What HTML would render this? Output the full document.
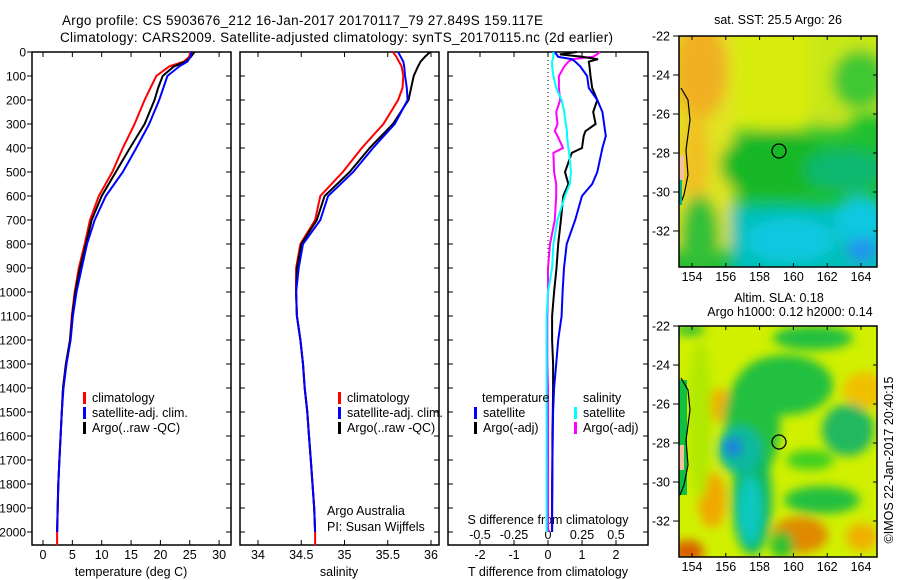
<!DOCTYPE html>
<html><head><meta charset="utf-8"><style>
html,body{margin:0;padding:0;background:#fff;}
svg{display:block;font-family:"Liberation Sans",Arial,sans-serif;}
text{fill:#000;}
</style></head><body>
<svg id="fig" width="900" height="580" viewBox="0 0 900 580" xmlns="http://www.w3.org/2000/svg">
<defs>
<filter id="blur1" x="-20%" y="-20%" width="140%" height="140%"><feGaussianBlur stdDeviation="7"/></filter>
<filter id="blur2" x="-20%" y="-20%" width="140%" height="140%"><feGaussianBlur stdDeviation="5"/></filter>
<clipPath id="clipTop"><rect x="679" y="36" width="198" height="231"/></clipPath>
<clipPath id="clipBot"><rect x="679" y="326" width="198" height="231"/></clipPath>
</defs>
<text x="62" y="25" font-size="13.5" textLength="481">Argo profile: CS 5903676_212 16-Jan-2017 20170117_79 27.849S 159.117E</text>
<text x="60" y="42" font-size="13.5" textLength="553">Climatology: CARS2009. Satellite-adjusted climatology: synTS_20170115.nc (2d earlier)</text>
<g id="panels"></g>
<g id="maps"></g>
</svg>
<script>
// ---- data ----
const depths = [0,20,40,60,100,150,200,300,400,500,600,700,800,900,1000,1100,1200,1300,1400,1500,1600,1700,1800,1900,2000];
const tempClim = [25.1,24.9,24.0,21.5,19.3,18.3,17.3,15.6,13.6,11.8,9.5,8.0,7.1,6.1,5.4,4.9,4.6,3.9,3.4,3.2,3.0,2.8,2.6,2.5,2.4];
const tempSat  = [25.3,25.1,24.6,23.2,21.2,20.5,19.8,18.1,15.9,13.6,10.7,8.8,7.5,6.6,5.7,5.1,4.7,4.0,3.5,3.2,3.0,2.8,2.6,2.5,2.4];
const tempArgo = [25.8,25.2,24.3,22.3,20.4,19.6,19.0,17.3,14.8,12.4,10.0,8.3,7.3,6.3,5.5,5.0,4.6,3.9,3.4,3.2,3.0,2.8,2.6,2.5,2.4];
const salClim = [35.56,35.6,35.63,35.66,35.68,35.67,35.62,35.45,35.2,34.98,34.72,34.66,34.49,34.44,34.44,34.45,34.49,34.52,34.54,34.57,34.59,34.61,34.63,34.65,34.66];
const salSat  = [35.62,35.65,35.68,35.69,35.70,35.72,35.73,35.58,35.33,35.1,34.81,34.72,34.52,34.47,34.44,34.45,34.49,34.52,34.54,34.57,34.59,34.61,34.63,34.65,34.66];
const salArgo = [35.99,35.93,35.88,35.85,35.8,35.77,35.74,35.56,35.29,35.06,34.77,34.68,34.5,34.45,34.44,34.45,34.49,34.52,34.54,34.57,34.59,34.61,34.63,34.65,34.66];
const depthsDiff = [0,10,20,30,40,60,100,150,200,250,300,330,350,400,420,500,550,600,700,800,900,1000,1100,1200,1300,1400,1500,1600,1700,1800,1900,2000];
const tDiffSat  = [0.2,0.25,0.3,0.7,0.8,0.95,1.15,1.2,1.45,1.6,1.65,1.68,1.7,1.6,1.57,1.45,1.3,1.0,0.8,0.55,0.47,0.43,0.4,0.3,0.24,0.18,0.15,0.14,0.13,0.13,0.12,0.12];
const tDiffArgo = [0.85,0.35,1.0,1.47,1.2,1.22,1.25,1.3,1.45,1.33,1.4,1.1,1.05,1.0,0.7,0.5,0.6,0.45,0.38,0.3,0.25,0.18,0.12,0.12,0.15,0.15,0.14,0.13,0.13,0.12,0.12,0.12];
const sDiffSat  = [0.04,0.04,0.04,0.035,0.03,0.03,0.04,0.06,0.1,0.12,0.13,0.14,0.14,0.15,0.155,0.17,0.16,0.125,0.07,0.04,0.03,0.0,-0.01,-0.01,-0.01,-0.01,-0.01,-0.01,-0.01,-0.01,-0.01,-0.01];
const sDiffArgo = [0.38,0.36,0.33,0.18,0.15,0.12,0.08,0.08,0.09,0.06,0.07,0.05,0.07,0.11,0.04,0.045,0.06,0.06,0.05,0.015,0.0,0.0,-0.005,-0.005,-0.005,0,0,0,0,0,0,0];
const depthTicks = [0,100,200,300,400,500,600,700,800,900,1000,1100,1200,1300,1400,1500,1600,1700,1800,1900,2000];
const tempTicks = [0,5,10,15,20,25,30];
const salTicks = [34,34.5,35,35.5,36];
const tDiffTicks = [-2,-1,0,1,2];
const sDiffTicks = [-0.5,-0.25,0,0.25,0.5];

const NS = "http://www.w3.org/2000/svg";
const P = document.getElementById('panels');
function mk(tag, attrs, parent, txt){ const e=document.createElementNS(NS,tag); for(const k in attrs) e.setAttribute(k,attrs[k]); if(txt!==undefined) e.textContent=txt; (parent||P).appendChild(e); return e; }

const TOP=52, BOT=545;
function yD(d){ return TOP + d*0.24; }
function xT(t){ return 43 + t*5.87; }
function xS(s){ return 258 + (s-34)*86.5; }
function xTD(d){ return 548 + d*34; }
function xSD(d){ return 548 + d*136; }

function line(xs, ds, fx, color, name, extraDepth){
  let pts = ds.map((d,i)=>fx(xs[i]).toFixed(1)+','+yD(d).toFixed(1));
  if(extraDepth) pts.push(fx(xs[xs.length-1]).toFixed(1)+','+yD(extraDepth).toFixed(1));
  const el = mk('polyline',{points:pts.join(' '),fill:'none',stroke:color,'stroke-width':2,'stroke-linejoin':'miter'});
  
  
}

function frame(x0,x1,name){
  const r = mk('rect',{x:x0,y:TOP,width:x1-x0,height:BOT-TOP,fill:'none',stroke:'#000','stroke-width':1.5});
  
  
}

frame(32,231,'temperature-panel-frame');
frame(240,439,'salinity-panel-frame');
frame(448,648,'difference-panel-frame');

depthTicks.forEach(d=>{
  const y=yD(d);
  mk('line',{x1:27,x2:32,y1:y,y2:y,stroke:'#000'});
  mk('line',{x1:226,x2:231,y1:y,y2:y,stroke:'#000'});
  mk('line',{x1:240,x2:245,y1:y,y2:y,stroke:'#000'});
  mk('line',{x1:434,x2:439,y1:y,y2:y,stroke:'#000'});
  mk('line',{x1:448,x2:453,y1:y,y2:y,stroke:'#000'});
  mk('line',{x1:643,x2:648,y1:y,y2:y,stroke:'#000'});
  const t = mk('text',{x:26,y:y+4.5,'font-size':12,'text-anchor':'end'},P,String(d));
  
  
});

tempTicks.forEach(v=>{ const x=xT(v);
  mk('line',{x1:x,x2:x,y1:BOT,y2:BOT-5,stroke:'#000'}); mk('line',{x1:x,x2:x,y1:TOP,y2:TOP+5,stroke:'#000'});
  const t=mk('text',{x:x,y:559,'font-size':12.5,'text-anchor':'middle'},P,String(v));
  
  
});
salTicks.forEach(v=>{ const x=xS(v);
  mk('line',{x1:x,x2:x,y1:BOT,y2:BOT-5,stroke:'#000'}); mk('line',{x1:x,x2:x,y1:TOP,y2:TOP+5,stroke:'#000'});
  const t=mk('text',{x:x,y:559,'font-size':12.5,'text-anchor':'middle'},P,String(v));
  
  
});
tDiffTicks.forEach(v=>{ const x=xTD(v);
  mk('line',{x1:x,x2:x,y1:BOT,y2:BOT-5,stroke:'#000'}); mk('line',{x1:x,x2:x,y1:TOP,y2:TOP+5,stroke:'#000'});
  const t=mk('text',{x:x,y:559,'font-size':12.5,'text-anchor':'middle'},P,String(v));
  
  
});
sDiffTicks.forEach(v=>{ const x=xSD(v);
  const t=mk('text',{x:x,y:539,'font-size':12.5,'text-anchor':'middle'},P,String(v));
  
  
});

[[131,'temperature (deg C)','temperature-axis-title'],[339,'salinity','salinity-axis-title'],[548,'T difference from climatology','t-difference-axis-title']].forEach(a=>{
  const t=mk('text',{x:a[0],y:576,'font-size':12.5,'text-anchor':'middle'},P,a[1]);
  
  
});
const sdt = mk('text',{x:548,y:524,'font-size':12.5,'text-anchor':'middle'},P,'S difference from climatology');



const zl = mk('line',{x1:548,x2:548,y1:TOP,y2:yD(1000),stroke:'#000','stroke-dasharray':'1,3','stroke-width':1});



line(tempClim, depths, xT, '#ff0000', 'temperature-climatology-line', 2055);
line(tempArgo, depths, xT, '#000000', 'temperature-argo-line');
line(tempSat, depths, xT, '#0000ff', 'temperature-satellite-line');
line(salClim, depths, xS, '#ff0000', 'salinity-climatology-line', 2055);
line(salArgo, depths, xS, '#000000', 'salinity-argo-line');
line(salSat, depths, xS, '#0000ff', 'salinity-satellite-line');
line(sDiffArgo, depthsDiff, xSD, '#ff00ff', 's-diff-argo-line');
line(tDiffArgo, depthsDiff, xTD, '#000000', 't-diff-argo-line');
line(tDiffSat, depthsDiff, xTD, '#0000ff', 't-diff-satellite-line');
line(sDiffSat, depthsDiff, xSD, '#00ffff', 's-diff-satellite-line');

function leg(x,y,color,label,name){
  mk('rect',{x:x,y:y-10,width:3,height:12,fill:color});
  const t=mk('text',{x:x+9,y:y,'font-size':12.5},P,label);
  
  
}
leg(83,402,'#ff0000','climatology','legend-climatology');
leg(83,417,'#0000ff','satellite-adj. clim.','legend-satellite');
leg(83,432,'#000000','Argo(..raw -QC)','legend-argo');
leg(338,402,'#ff0000','climatology','legend-climatology-2');
leg(338,417,'#0000ff','satellite-adj. clim.','legend-satellite-2');
leg(338,432,'#000000','Argo(..raw -QC)','legend-argo-2');
const lt=mk('text',{x:482,y:402,'font-size':12.5},P,'temperature');


const ls=mk('text',{x:583,y:402,'font-size':12.5},P,'salinity');


leg(474,417,'#0000ff','satellite','legend-t-satellite');
leg(474,432,'#000000','Argo(-adj)','legend-t-argo');
leg(574,417,'#00ffff','satellite','legend-s-satellite');
leg(574,432,'#ff00ff','Argo(-adj)','legend-s-argo');

const aa=mk('text',{x:327,y:515,'font-size':12.5},P,'Argo Australia');


const pi=mk('text',{x:327,y:531,'font-size':12.5},P,'PI: Susan Wijffels');



// ---- maps ----
const M = document.getElementById('maps');
function mm(tag, attrs, parent, txt){ return mk(tag, attrs, parent||M, txt); }
const lonTicks=[154,156,158,160,162,164];
const latTicks=[-22,-24,-26,-28,-30,-32];
function xLon(l){ return 692 + (l-154)*16.9; }

function mapAxes(y0, labelY, name){
  const f = mm('rect',{x:679,y:y0,width:198,height:231,fill:'none',stroke:'#000','stroke-width':1.5});
  
  
  lonTicks.forEach(l=>{ const x=xLon(l);
    mm('line',{x1:x,x2:x,y1:y0,y2:y0+4,stroke:'#000'}); mm('line',{x1:x,x2:x,y1:y0+231,y2:y0+227,stroke:'#000'});
    const t=mm('text',{x:x,y:labelY,'font-size':12.5,'text-anchor':'middle'},M,String(l));
    
    
  });
  latTicks.forEach(l=>{ const y=y0+(-22-l)*19.5;
    mm('line',{x1:673,x2:679,y1:y,y2:y,stroke:'#000'}); mm('line',{x1:873,x2:877,y1:y,y2:y,stroke:'#000'});
    const t=mm('text',{x:670,y:y+4.5,'font-size':12.5,'text-anchor':'end'},M,String(l));
    
    
  });
}

// SST map
const gTop = mm('g',{'clip-path':'url(#clipTop)'});


mm('rect',{x:679,y:36,width:198,height:231,fill:'#20c030'},gTop);
const gTB = mm('g',{filter:'url(#blur1)'},gTop);
[
 ['rect',{x:660,y:20,width:240,height:95,fill:'#c8e818'}],
 ['rect',{x:660,y:20,width:150,height:110,fill:'#d8ec10'}],
 ['rect',{x:660,y:20,width:75,height:230,fill:'#e0e420'}],
 ['ellipse',{cx:700,cy:70,rx:28,ry:50,fill:'#f0b020'}],
 ['ellipse',{cx:695,cy:160,rx:14,ry:50,fill:'#f0c020'}],
 ['ellipse',{cx:860,cy:80,rx:28,ry:30,fill:'#40c830'}],
 ['ellipse',{cx:830,cy:120,rx:25,ry:10,fill:'#c0e020'}],
 ['ellipse',{cx:775,cy:165,rx:55,ry:35,fill:'#18b828'}],
 ['ellipse',{cx:845,cy:170,rx:40,ry:22,fill:'#10b870'}],
 ['rect',{x:730,y:205,width:170,height:80,fill:'#00c0b8'}],
 ['ellipse',{cx:790,cy:240,rx:45,ry:22,fill:'#10c8e0'}],
 ['ellipse',{cx:860,cy:220,rx:25,ry:25,fill:'#10c8e0'}],
 ['ellipse',{cx:862,cy:250,rx:15,ry:12,fill:'#2090f0'}],
 ['ellipse',{cx:700,cy:235,rx:20,ry:40,fill:'#30c038'}]
].forEach(s=>mm(s[0],s[1],gTB));
mm('path',{d:'M681,88 L688,100 L690,120 L686,150 L688,175 L684,195 L680,205',fill:'none',stroke:'#000','stroke-width':1.2},gTop);
mm('rect',{x:679,y:155,width:5,height:25,fill:'#f5c0a0'},gTop);
mm('rect',{x:679,y:180,width:3,height:25,fill:'#10b080'},gTop);
const c1=mm('circle',{cx:779,cy:151,r:7,fill:'none',stroke:'#000','stroke-width':1.3},gTop);


mapAxes(36, 281, 'sst-map');
const st=mm('text',{x:778,y:24,'font-size':12.5,'text-anchor':'middle'},M,'sat. SST: 25.5 Argo: 26');



// SLA map
const gBot = mm('g',{'clip-path':'url(#clipBot)'});


mm('rect',{x:679,y:326,width:198,height:231,fill:'#d0f000'},gBot);
const gBB = mm('g',{filter:'url(#blur2)'},gBot);
[
 ['ellipse',{cx:720,cy:405,rx:14,ry:16,fill:'#f0b000'}],
 ['ellipse',{cx:712,cy:500,rx:14,ry:28,fill:'#f0a800'}],
 ['ellipse',{cx:688,cy:552,rx:16,ry:12,fill:'#d86000'}],
 ['ellipse',{cx:800,cy:535,rx:28,ry:18,fill:'#e08800'}],
 ['ellipse',{cx:865,cy:390,rx:22,ry:18,fill:'#f0c000'}],
 ['ellipse',{cx:862,cy:537,rx:16,ry:14,fill:'#f0b000'}],
 ['ellipse',{cx:813,cy:338,rx:40,ry:12,fill:'#20c040'}],
 ['ellipse',{cx:785,cy:385,rx:48,ry:30,fill:'#20c040'}],
 ['ellipse',{cx:752,cy:425,rx:28,ry:55,fill:'#20c040'}],
 ['ellipse',{cx:752,cy:500,rx:20,ry:55,fill:'#10b860'}],
 ['ellipse',{cx:740,cy:450,rx:22,ry:24,fill:'#10b8a0'}],
 ['ellipse',{cx:750,cy:510,rx:12,ry:35,fill:'#10c8c0'}],
 ['ellipse',{cx:848,cy:430,rx:26,ry:26,fill:'#20b860'}],
 ['ellipse',{cx:822,cy:500,rx:38,ry:14,fill:'#20c040'}],
 ['ellipse',{cx:810,cy:460,rx:24,ry:10,fill:'#40d020'}],
 ['ellipse',{cx:782,cy:545,rx:12,ry:14,fill:'#30c030'}],
 ['ellipse',{cx:690,cy:330,rx:15,ry:6,fill:'#30c030'}],
 ['ellipse',{cx:700,cy:420,rx:12,ry:80,fill:'#b0e800'}]
].forEach(s=>mm(s[0],s[1],gBB));
mm('ellipse',{cx:733,cy:447,rx:9,ry:9,fill:'#2080e0',filter:'url(#blur2)'},gBot);
mm('rect',{x:679,y:380,width:8,height:115,fill:'#10c040'},gBot);
mm('path',{d:'M681,378 L688,390 L690,410 L686,440 L688,465 L684,485 L680,495',fill:'none',stroke:'#000','stroke-width':1.2},gBot);
mm('rect',{x:679,y:445,width:5,height:25,fill:'#f5c0a0'},gBot);
const c2=mm('circle',{cx:779,cy:442,r:7,fill:'none',stroke:'#000','stroke-width':1.3},gBot);


mapAxes(326, 571, 'sla-map');
const s1=mm('text',{x:779,y:302,'font-size':12.5,'text-anchor':'middle'},M,'Altim. SLA: 0.18');


const s2=mm('text',{x:790,y:316,'font-size':12.5,'text-anchor':'middle'},M,'Argo h1000: 0.12 h2000: 0.14');


const cr=mm('text',{x:0,y:0,'font-size':12.5,'text-anchor':'middle',transform:'translate(893,460) rotate(-90)'},M,'©IMOS 22-Jan-2017 20:40:15');


</script>
</body></html>
